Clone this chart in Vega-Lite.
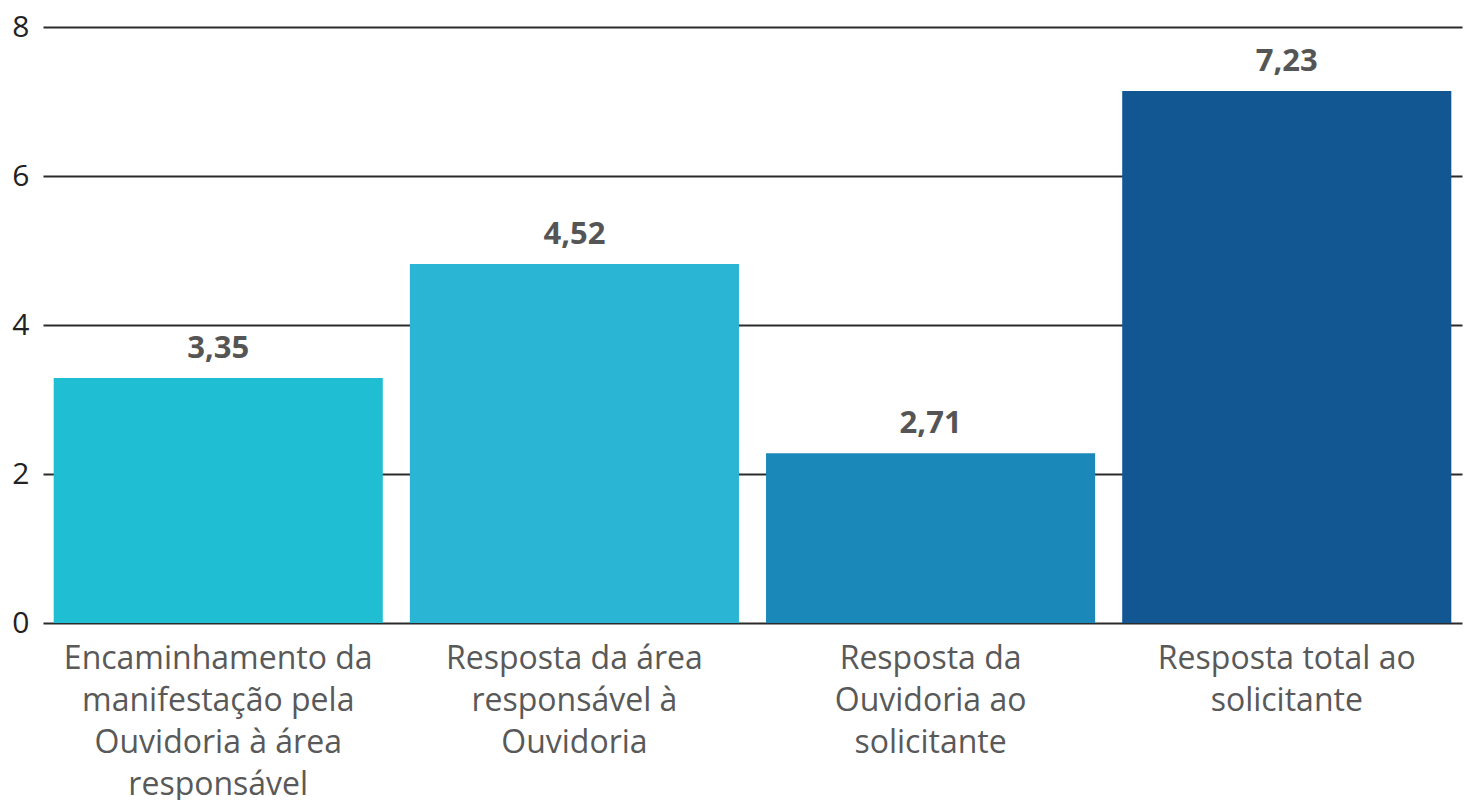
{
  "$schema": "https://vega.github.io/schema/vega-lite/v6.json",
  "autosize": {"type": "none"},
  "padding": {"left": 43, "top": 27, "right": 5, "bottom": 177},
  "width": 1419,
  "height": 596,
  "background": "white",
  "config": {
    "font": "Open Sans",
    "view": {"stroke": null}
  },
  "data": {
    "values": [
      {"etapa": "Encaminhamento da|manifestação pela|Ouvidoria à área|responsável", "valor": 3.29, "rotulo": "3,35", "cor": "#1fbed3"},
      {"etapa": "Resposta da área|responsável à|Ouvidoria", "valor": 4.82, "rotulo": "4,52", "cor": "#2bb5d4"},
      {"etapa": "Resposta da|Ouvidoria ao|solicitante", "valor": 2.28, "rotulo": "2,71", "cor": "#1a88b8"},
      {"etapa": "Resposta total ao|solicitante", "valor": 7.14, "rotulo": "7,23", "cor": "#125692"}
    ]
  },
  "encoding": {
    "x": {
      "field": "etapa",
      "type": "nominal",
      "sort": null,
      "scale": {"paddingInner": 0.076, "paddingOuter": 0.03},
      "axis": {
        "title": null,
        "labelAngle": 0,
        "labelExpr": "split(datum.label, '|')",
        "labelFont": "Open Sans",
        "labelFontSize": 32,
        "labelColor": "#595959",
        "labelLineHeight": 42,
        "labelPadding": 20,
        "labelLimit": 400,
        "domain": false,
        "ticks": false
      }
    },
    "y": {
      "field": "valor",
      "type": "quantitative",
      "scale": {"domain": [0, 8]},
      "axis": {
        "title": null,
        "values": [0, 2, 4, 6, 8],
        "labelFont": "Open Sans",
        "labelFontSize": 30,
        "labelColor": "#222222",
        "labelPadding": 14,
        "domain": false,
        "ticks": false,
        "grid": true,
        "gridColor": "#2b2b2b",
        "gridWidth": 1.8
      }
    }
  },
  "layer": [
    {
      "mark": {"type": "bar"},
      "encoding": {
        "color": {"field": "cor", "type": "nominal", "scale": null, "legend": null}
      }
    },
    {
      "mark": {"type": "text", "baseline": "alphabetic", "dy": -20, "font": "Open Sans", "fontSize": 31, "fontWeight": "bold", "color": "#555555"},
      "encoding": {
        "text": {"field": "rotulo", "type": "nominal"}
      }
    }
  ]
}
